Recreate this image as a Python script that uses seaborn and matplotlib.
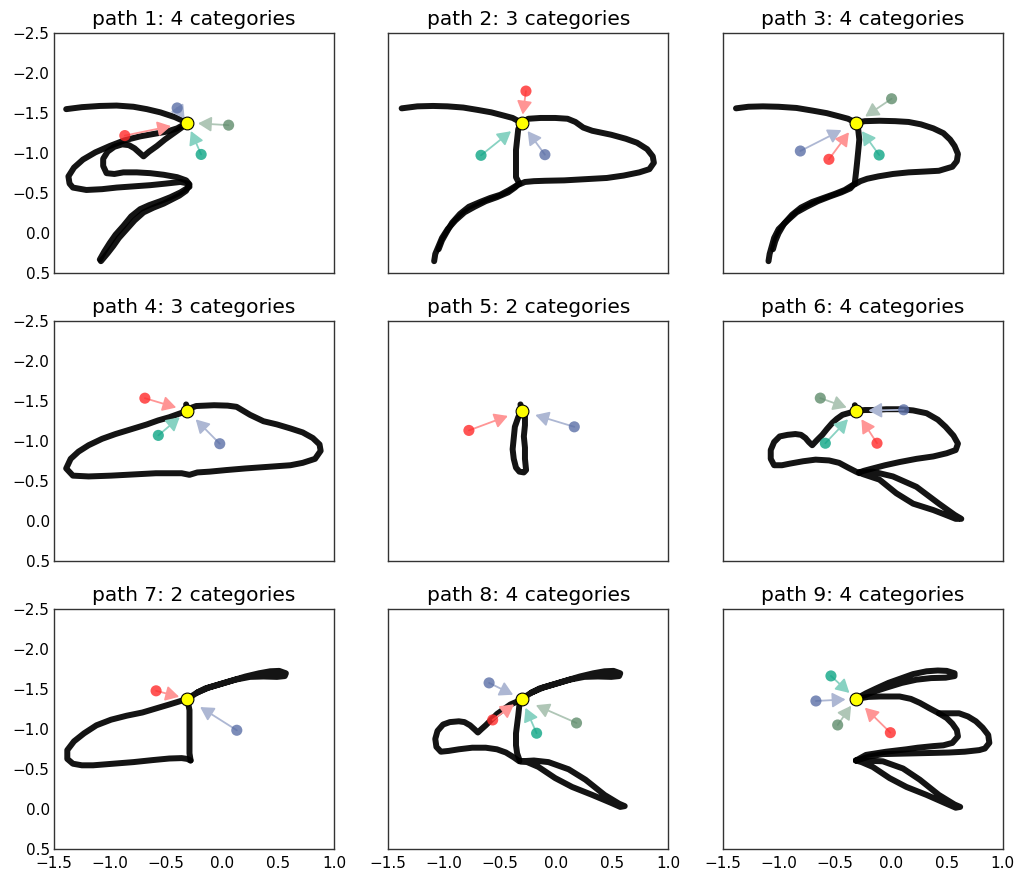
import numpy as np
import pandas as pd
import matplotlib
matplotlib.use("Agg")
import matplotlib.pyplot as plt
import matplotlib.colors as mcolors
import seaborn as sns

sns.set_theme(style="white")
plt.rcParams["font.family"] = ["DejaVu Sans"]
plt.rcParams["axes.unicode_minus"] = True

# shared starting state of every trajectory
root_x = -0.31
root_y = -1.38

# category colours
palette = {"red": "#ff2b2b", "slate": "#5b6fa6", "sage": "#5f8c6c", "teal": "#0ea585"}

# ---- trajectory waypoints (x, y) for each path ----
path1_curves = [
    [(-0.31, -1.38), (-0.42, -1.45), (-0.55, -1.51), (-0.67, -1.55), (-0.79, -1.58), (-0.94, -1.595),
     (-1.09, -1.59), (-1.25, -1.575), (-1.39, -1.55)],
    [(-0.31, -1.38), (-0.40, -1.31), (-0.49, -1.27), (-0.61, -1.24), (-0.73, -1.21), (-0.87, -1.16),
     (-1.00, -1.09), (-1.13, -1.01), (-1.24, -0.92), (-1.32, -0.82), (-1.37, -0.71), (-1.36, -0.62),
     (-1.33, -0.57), (-1.21, -0.54), (-1.07, -0.55), (-0.94, -0.57), (-0.79, -0.585), (-0.64, -0.60),
     (-0.50, -0.62), (-0.37, -0.64), (-0.30, -0.62), (-0.29, -0.58), (-0.37, -0.51), (-0.46, -0.45),
     (-0.55, -0.40), (-0.65, -0.35), (-0.73, -0.30), (-0.81, -0.21), (-0.88, -0.09), (-0.95, 0.02),
     (-1.00, 0.12), (-1.05, 0.23), (-1.09, 0.33)],
    [(-0.31, -1.38), (-0.36, -1.32), (-0.43, -1.25), (-0.51, -1.17), (-0.58, -1.09), (-0.65, -1.02),
     (-0.70, -0.96), (-0.74, -1.01), (-0.78, -1.06), (-0.83, -1.10), (-0.89, -1.11), (-0.96, -1.08),
     (-1.02, -1.02), (-1.06, -0.93), (-1.06, -0.84), (-1.03, -0.75), (-0.96, -0.74), (-0.88, -0.76),
     (-0.76, -0.76), (-0.64, -0.75), (-0.52, -0.73), (-0.40, -0.70), (-0.32, -0.66), (-0.29, -0.61),
     (-0.32, -0.53), (-0.38, -0.47), (-0.45, -0.42), (-0.52, -0.37), (-0.61, -0.32), (-0.70, -0.26),
     (-0.78, -0.16), (-0.85, -0.05), (-0.92, 0.06), (-0.97, 0.16), (-1.02, 0.25), (-1.08, 0.35)],
]

path2_curves = [
    [(-0.31, -1.38), (-0.39, -1.44), (-0.47, -1.47), (-0.58, -1.51), (-0.70, -1.54), (-0.83, -1.57),
     (-0.97, -1.585), (-1.10, -1.59), (-1.24, -1.585), (-1.38, -1.56)],
    [(-0.31, -1.38), (-0.25, -1.43), (-0.14, -1.44), (-0.01, -1.44), (0.10, -1.43), (0.17, -1.39),
     (0.24, -1.32), (0.32, -1.28), (0.49, -1.23), (0.62, -1.18), (0.72, -1.13), (0.81, -1.05),
     (0.86, -0.96), (0.87, -0.88), (0.83, -0.80), (0.74, -0.76), (0.60, -0.72), (0.45, -0.69),
     (0.26, -0.675), (0.07, -0.66), (-0.10, -0.655), (-0.20, -0.65), (-0.28, -0.64), (-0.33, -0.61)],
    [(-0.31, -1.38), (-0.34, -1.30), (-0.35, -1.17), (-0.36, -1.04), (-0.36, -0.92), (-0.36, -0.80),
     (-0.36, -0.70), (-0.33, -0.62)],
    [(-0.33, -0.62), (-0.37, -0.57), (-0.43, -0.51), (-0.53, -0.45), (-0.63, -0.40), (-0.73, -0.33),
     (-0.82, -0.26), (-0.90, -0.16), (-0.97, -0.05), (-1.02, 0.06), (-1.05, 0.16), (-1.08, 0.26),
     (-1.09, 0.35)],
    [(-0.35, -0.60), (-0.42, -0.54), (-0.50, -0.48), (-0.59, -0.44), (-0.68, -0.39), (-0.78, -0.33),
     (-0.86, -0.24), (-0.93, -0.13), (-0.98, -0.01), (-1.02, 0.09), (-1.05, 0.20)],
]

path3_curves = [
    [(-0.31, -1.38), (-0.38, -1.43), (-0.46, -1.46), (-0.57, -1.50), (-0.69, -1.53), (-0.84, -1.565),
     (-1.00, -1.58), (-1.14, -1.585), (-1.27, -1.58), (-1.38, -1.56)],
    [(-0.31, -1.38), (-0.23, -1.40), (-0.10, -1.405), (0.04, -1.40), (0.16, -1.39), (0.27, -1.36),
     (0.38, -1.31), (0.47, -1.25), (0.53, -1.17), (0.57, -1.09), (0.60, -0.99), (0.59, -0.90),
     (0.55, -0.83), (0.43, -0.78), (0.30, -0.77), (0.16, -0.76), (0.02, -0.74), (-0.11, -0.71),
     (-0.21, -0.68), (-0.27, -0.65), (-0.32, -0.61)],
    [(-0.31, -1.38), (-0.29, -1.30), (-0.28, -1.17), (-0.29, -1.02), (-0.30, -0.88), (-0.31, -0.75),
     (-0.32, -0.63)],
    [(-0.32, -0.62), (-0.36, -0.56), (-0.44, -0.51), (-0.54, -0.46), (-0.65, -0.40), (-0.75, -0.33),
     (-0.84, -0.26), (-0.92, -0.16), (-1.00, -0.05), (-1.04, 0.06), (-1.06, 0.16), (-1.08, 0.26),
     (-1.09, 0.35)],
    [(-0.34, -0.60), (-0.41, -0.54), (-0.50, -0.49), (-0.60, -0.44), (-0.70, -0.39), (-0.80, -0.32),
     (-0.88, -0.23), (-0.95, -0.12), (-1.00, 0.00), (-1.03, 0.10), (-1.05, 0.20)],
]

path4_curves = [
    [(-0.31, -1.38), (-0.27, -1.42), (-0.23, -1.44), (-0.07, -1.45), (0.05, -1.445), (0.13, -1.43),
     (0.19, -1.38), (0.25, -1.33), (0.37, -1.25), (0.49, -1.21), (0.61, -1.16), (0.72, -1.11),
     (0.81, -1.04), (0.87, -0.96), (0.88, -0.88), (0.83, -0.78), (0.72, -0.73), (0.61, -0.70),
     (0.41, -0.68), (0.21, -0.66), (0.04, -0.64), (-0.11, -0.62), (-0.22, -0.61), (-0.29, -0.58),
     (-0.36, -0.60), (-0.59, -0.60), (-0.79, -0.585), (-0.99, -0.57), (-1.19, -0.56), (-1.33, -0.57),
     (-1.39, -0.66), (-1.35, -0.78), (-1.28, -0.87), (-1.19, -0.95), (-1.07, -1.03), (-0.95, -1.09),
     (-0.81, -1.15), (-0.67, -1.21), (-0.57, -1.26), (-0.47, -1.30), (-0.31, -1.38)],
    [(-0.31, -1.38), (-0.32, -1.46)],
]

path5_curves = [
    [(-0.31, -1.38), (-0.34, -1.30), (-0.37, -1.18), (-0.38, -1.04), (-0.39, -0.90), (-0.38, -0.78),
     (-0.36, -0.67), (-0.33, -0.62), (-0.29, -0.61), (-0.27, -0.64), (-0.28, -0.78), (-0.28, -0.92),
     (-0.29, -1.06), (-0.28, -1.20), (-0.28, -1.32), (-0.31, -1.38)],
    [(-0.31, -1.38), (-0.32, -1.46)],
]

path6_curves = [
    [(-0.31, -1.38), (-0.23, -1.39), (-0.16, -1.39), (-0.04, -1.40), (0.08, -1.40), (0.20, -1.385),
     (0.32, -1.35), (0.42, -1.27), (0.49, -1.18), (0.56, -1.07), (0.60, -0.97), (0.58, -0.89),
     (0.50, -0.85), (0.38, -0.81), (0.23, -0.78), (0.08, -0.74), (-0.05, -0.70), (-0.16, -0.66),
     (-0.24, -0.63), (-0.28, -0.61)],
    [(-0.31, -1.38), (-0.38, -1.35), (-0.43, -1.33), (-0.48, -1.28), (-0.52, -1.23), (-0.57, -1.15),
     (-0.61, -1.08), (-0.66, -1.01), (-0.70, -0.95), (-0.73, -0.99), (-0.76, -1.04), (-0.80, -1.08),
     (-0.85, -1.09), (-0.92, -1.08), (-0.99, -1.06), (-1.04, -0.99), (-1.07, -0.89), (-1.07, -0.78),
     (-1.04, -0.70), (-0.97, -0.70), (-0.90, -0.72), (-0.78, -0.75), (-0.67, -0.77), (-0.55, -0.76),
     (-0.46, -0.73), (-0.38, -0.67), (-0.31, -0.62), (-0.28, -0.60)],
    [(-0.28, -0.61), (-0.16, -0.62), (0.02, -0.56), (0.23, -0.43), (0.43, -0.22), (0.57, -0.08),
     (0.63, -0.03), (0.58, -0.03), (0.49, -0.08), (0.38, -0.14), (0.20, -0.22), (0.05, -0.35),
     (-0.10, -0.52), (-0.25, -0.59), (-0.28, -0.61)],
    [(-0.31, -1.38), (-0.32, -1.45)],
]

path7_curves = [
    [(-0.31, -1.38), (-0.22, -1.46), (-0.15, -1.51), (-0.03, -1.56), (0.09, -1.61), (0.21, -1.66),
     (0.33, -1.70), (0.43, -1.725), (0.51, -1.73), (0.57, -1.70), (0.56, -1.665), (0.49, -1.655),
     (0.37, -1.66), (0.25, -1.655), (0.12, -1.62), (0.00, -1.57), (-0.12, -1.52), (-0.22, -1.46)],
    [(-0.31, -1.38), (-0.40, -1.34), (-0.47, -1.31), (-0.59, -1.26), (-0.71, -1.21), (-0.85, -1.17),
     (-0.99, -1.12), (-1.12, -1.05), (-1.23, -0.95), (-1.32, -0.85), (-1.38, -0.74), (-1.38, -0.63),
     (-1.33, -0.57), (-1.25, -0.55), (-1.15, -0.55), (-0.97, -0.57), (-0.79, -0.59), (-0.62, -0.615),
     (-0.47, -0.635), (-0.36, -0.64), (-0.31, -0.63), (-0.28, -0.61)],
    [(-0.28, -0.61), (-0.29, -0.70), (-0.29, -0.85), (-0.29, -0.97), (-0.29, -1.10), (-0.29, -1.24),
     (-0.31, -1.38)],
]

path8_curves = [
    [(-0.31, -1.38), (-0.22, -1.46), (-0.15, -1.51), (-0.03, -1.56), (0.09, -1.61), (0.21, -1.66),
     (0.33, -1.70), (0.43, -1.725), (0.51, -1.73), (0.57, -1.70), (0.56, -1.665), (0.49, -1.655),
     (0.37, -1.66), (0.25, -1.655), (0.12, -1.62), (0.00, -1.57), (-0.12, -1.52), (-0.22, -1.46)],
    [(-0.31, -1.38), (-0.36, -1.34), (-0.41, -1.31), (-0.47, -1.25), (-0.53, -1.19), (-0.58, -1.12),
     (-0.63, -1.05), (-0.67, -1.00), (-0.70, -0.96), (-0.73, -1.00), (-0.77, -1.05), (-0.82, -1.09),
     (-0.87, -1.10), (-0.95, -1.09), (-1.01, -1.06), (-1.06, -0.98), (-1.08, -0.88), (-1.07, -0.78),
     (-1.03, -0.72), (-0.96, -0.73), (-0.87, -0.75), (-0.75, -0.77), (-0.63, -0.77), (-0.53, -0.75),
     (-0.45, -0.71), (-0.38, -0.65), (-0.33, -0.60)],
    [(-0.31, -1.38), (-0.33, -1.30), (-0.34, -1.17), (-0.36, -0.95), (-0.36, -0.80), (-0.35, -0.70),
     (-0.33, -0.62)],
    [(-0.32, -0.60), (-0.20, -0.61), (-0.07, -0.59), (0.11, -0.50), (0.26, -0.37), (0.43, -0.18),
     (0.56, -0.07), (0.61, -0.04), (0.57, -0.03), (0.49, -0.08), (0.32, -0.18), (0.14, -0.28),
     (-0.01, -0.39), (-0.16, -0.53), (-0.26, -0.59), (-0.32, -0.60)],
]

path9_curves = [
    [(-0.31, -1.38), (-0.22, -1.45), (-0.13, -1.51), (-0.02, -1.58), (0.08, -1.63), (0.20, -1.69),
     (0.32, -1.725), (0.42, -1.735), (0.50, -1.73), (0.57, -1.70), (0.57, -1.665), (0.49, -1.645),
     (0.36, -1.64), (0.23, -1.62), (0.10, -1.58), (-0.04, -1.52), (-0.15, -1.47), (-0.24, -1.42)],
    [(-0.31, -1.38), (-0.20, -1.405), (-0.10, -1.41), (0.08, -1.41), (0.18, -1.38), (0.26, -1.33),
     (0.35, -1.26), (0.43, -1.20), (0.50, -1.14), (0.55, -1.07), (0.59, -0.99), (0.60, -0.91),
     (0.55, -0.83), (0.47, -0.80), (0.38, -0.79), (0.24, -0.77), (0.14, -0.75), (-0.04, -0.72),
     (-0.22, -0.68), (-0.31, -0.61)],
    [(0.43, -1.20), (0.52, -1.20), (0.61, -1.20), (0.69, -1.16), (0.76, -1.10), (0.82, -1.02),
     (0.87, -0.93), (0.88, -0.83), (0.84, -0.76), (0.79, -0.74), (0.66, -0.72), (0.52, -0.71),
     (0.38, -0.705), (0.23, -0.70), (0.08, -0.695), (-0.07, -0.69), (-0.19, -0.66), (-0.28, -0.62),
     (-0.31, -0.61)],
    [(-0.31, -0.61), (-0.25, -0.61), (-0.07, -0.60), (0.11, -0.51), (0.26, -0.37), (0.43, -0.18),
     (0.57, -0.06), (0.62, -0.03), (0.58, -0.02), (0.49, -0.075), (0.32, -0.18), (0.14, -0.28),
     (-0.01, -0.39), (-0.16, -0.53), (-0.26, -0.59), (-0.31, -0.61)],
]

# ---- category end states (category, x, y) for each path ----
path1_states = [("slate", -0.40, -1.565), ("red", -0.867, -1.22), ("sage", 0.059, -1.35), ("teal", -0.186, -0.984)]
path2_states = [("red", -0.271, -1.776), ("teal", -0.672, -0.973), ("slate", -0.102, -0.981)]
path3_states = [("sage", 0.008, -1.68), ("slate", -0.806, -1.027), ("red", -0.551, -0.923), ("teal", -0.103, -0.977)]
path4_states = [("red", -0.688, -1.538), ("teal", -0.568, -1.073), ("slate", -0.02, -0.969)]
path5_states = [("red", -0.78, -1.135), ("slate", 0.16, -1.18)]
path6_states = [("sage", -0.628, -1.539), ("slate", 0.116, -1.393), ("teal", -0.583, -0.975), ("red", -0.122, -0.975)]
path7_states = [("red", -0.588, -1.481), ("slate", 0.132, -0.988)]
path8_states = [("slate", -0.60, -1.58), ("red", -0.568, -1.117), ("teal", -0.176, -0.951), ("sage", 0.18, -1.079)]
path9_states = [("teal", -0.533, -1.667), ("slate", -0.667, -1.354), ("sage", -0.473, -1.054), ("red", -0.003, -0.958)]

all_curves = [path1_curves, path2_curves, path3_curves, path4_curves, path5_curves,
              path6_curves, path7_curves, path8_curves, path9_curves]
all_states = [path1_states, path2_states, path3_states, path4_states, path5_states,
              path6_states, path7_states, path8_states, path9_states]

x_ticks = [-1.5, -1.0, -0.5, 0.0, 0.5, 1.0]
y_ticks = [-2.5, -2.0, -1.5, -1.0, -0.5, 0.0, 0.5]

arrow_frac = 0.74


def pale(color, amount=0.5):
    """Mix a colour with white so arrows read as a lighter, solid tint."""
    rgb = np.array(mcolors.to_rgb(color))
    return tuple(rgb * amount + (1 - amount))


fig, axes = plt.subplots(3, 3, figsize=(10.16, 8.72), dpi=100, sharex=True, sharey=True)
fig.subplots_adjust(left=0.053, right=0.987, bottom=0.026, top=0.962, wspace=0.193, hspace=0.2)

for i, ax in enumerate(axes.flat):
    curves = all_curves[i]
    states = all_states[i]

    rows = []
    for cid, curve in enumerate(curves):
        for order, (x, y) in enumerate(curve):
            rows.append({"curve": cid, "order": order, "x": x, "y": y})
    traj = pd.DataFrame(rows)
    sns.lineplot(data=traj, x="x", y="y", units="curve", estimator=None, sort=False,
                 color="black", linewidth=4.3, alpha=0.92, ax=ax, legend=False)
    for ln in ax.lines:
        ln.set_solid_capstyle("round")
        ln.set_solid_joinstyle("round")
        ln.set_zorder(2)

    st = pd.DataFrame(states, columns=["category", "x", "y"])
    for _, r in st.iterrows():
        tip = (r.x + arrow_frac * (root_x - r.x), r.y + arrow_frac * (root_y - r.y))
        ax.annotate("", xy=tip, xytext=(r.x, r.y),
                    arrowprops=dict(arrowstyle="-|>,head_length=0.8,head_width=0.45",
                                    color=pale(palette[r.category], 0.5), lw=1.3,
                                    shrinkA=0, shrinkB=0, mutation_scale=10),
                    zorder=3)
    sns.scatterplot(data=st, x="x", y="y", hue="category", palette=palette, s=64,
                    alpha=0.8, edgecolor="none", ax=ax, legend=False, zorder=4)
    sns.scatterplot(x=[root_x], y=[root_y], color="#ffff00", s=85, edgecolor="black",
                    linewidth=0.8, ax=ax, legend=False, zorder=6)

    ax.set_title(f"path {i + 1}: {len(states)} categories", fontsize=14.5, color="black")
    ax.set_xlim(-1.5, 1.0)
    ax.set_ylim(0.5, -2.5)
    ax.set_xticks(x_ticks)
    ax.set_yticks(y_ticks)
    ax.set_xlabel("")
    ax.set_ylabel("")
    ax.tick_params(length=0, labelsize=11, colors="black")
    ax.tick_params(axis="y", pad=3)
    ax.tick_params(axis="x", pad=5)
    for sp in ax.spines.values():
        sp.set_color("#333333")
        sp.set_linewidth(1.0)

fig.savefig("out.png", dpi=100)
